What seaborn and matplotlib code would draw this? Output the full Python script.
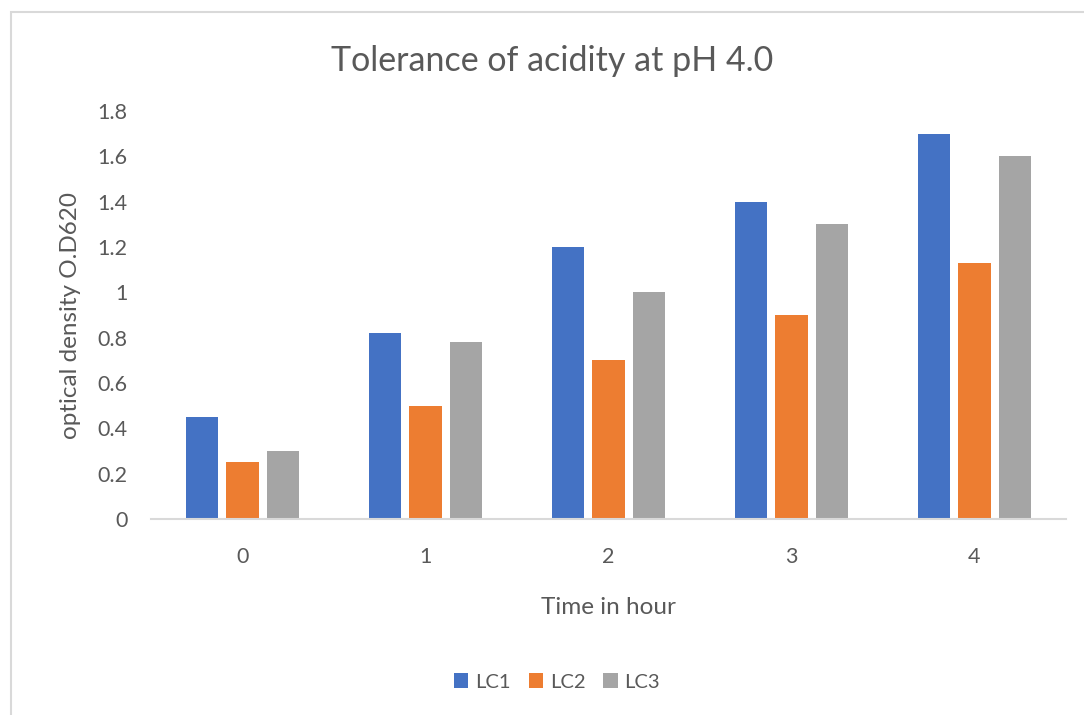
import matplotlib
matplotlib.use("Agg")
import matplotlib.pyplot as plt
import seaborn as sns
import pandas as pd
from matplotlib.patches import Rectangle

hours = ["0", "1", "2", "3", "4"]
series_names = ["LC1", "LC2", "LC3"]
lc1 = [0.45, 0.82, 1.20, 1.40, 1.70]
lc2 = [0.25, 0.50, 0.70, 0.90, 1.13]
lc3 = [0.30, 0.78, 1.00, 1.30, 1.60]
yticks = [0, 0.2, 0.4, 0.6, 0.8, 1, 1.2, 1.4, 1.6, 1.8]
ytick_labels = ["0", "0.2", "0.4", "0.6", "0.8", "1", "1.2", "1.4", "1.6", "1.8"]
colors = ["#4472C4", "#ED7D31", "#A5A5A5"]

rows = []
for name, vals in zip(series_names, [lc1, lc2, lc3]):
    for h, v in zip(hours, vals):
        rows.append({"hour": h, "series": name, "value": v})
df = pd.DataFrame(rows)

sns.set_theme(style="white")
plt.rcParams["font.family"] = ["Lato", "DejaVu Sans"]
txt = "#595959"

fig = plt.figure(figsize=(10.84, 7.15), dpi=100)
ax = fig.add_axes([151/1084, 1-519/715, (1066-151)/1084, (519-111)/715])

sns.barplot(data=df, x="hour", y="value", hue="series", order=hours,
            hue_order=series_names, palette=colors, width=0.656, gap=0.2,
            linewidth=0, saturation=1, ax=ax)

ax.set_ylim(0, 1.8)
ax.set_xlim(-0.5, 4.5)
ax.set_yticks(yticks)
ax.set_yticklabels(ytick_labels)
for s in ["top", "right", "left"]:
    ax.spines[s].set_visible(False)
ax.spines["bottom"].set_color("#D9D9D9")
ax.spines["bottom"].set_linewidth(1.5)
ax.tick_params(axis="y", length=0, pad=17, labelsize=15.5, labelcolor=txt)
ax.tick_params(axis="x", length=0, pad=20, labelsize=15.5, labelcolor=txt)
ax.set_xlabel("Time in hour", fontsize=17.5, color=txt, labelpad=22)
ax.set_ylabel("optical density O.D620", fontsize=17.5, color=txt, labelpad=12)
ax.set_title("Tolerance of acidity at pH 4.0", fontsize=24.5, color=txt, pad=29,
             x=(552-151)/915)

handles, labels = ax.get_legend_handles_labels()
ax.legend(handles, labels, loc="center",
          bbox_to_anchor=((557-151)/915, (682-519)/-408), ncol=3,
          frameon=False, fontsize=14.5, labelcolor=txt, handlelength=0.7,
          handleheight=0.7, handletextpad=0.35, columnspacing=0.9)

fig.patches.append(Rectangle((11/1084, -0.05), 1.2, 1-12/715+0.05,
                             transform=fig.transFigure, fill=False,
                             edgecolor="#D9D9D9", linewidth=1.5))

fig.savefig("out.png", dpi=100)
